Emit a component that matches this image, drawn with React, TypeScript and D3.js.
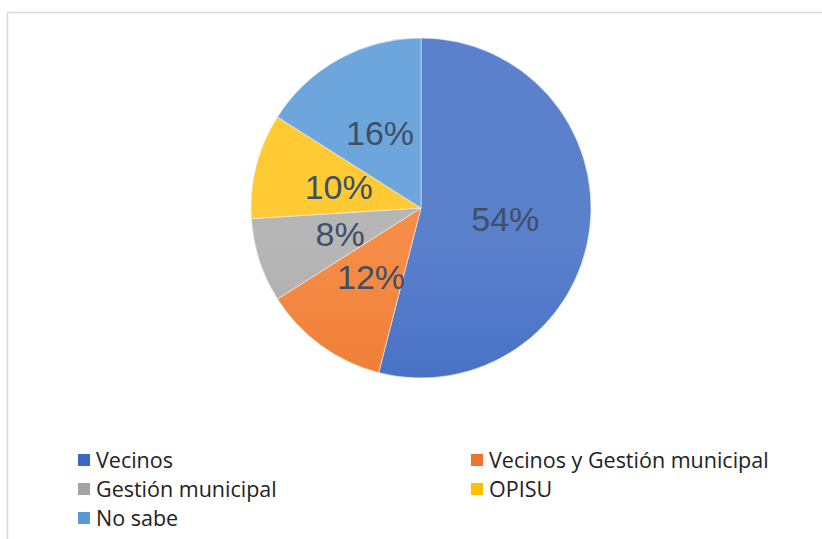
import React from 'react';
import * as d3 from 'd3';

const categories = ['Vecinos', 'Vecinos y Gestión municipal', 'Gestión municipal', 'OPISU', 'No sabe'];
const values = [54, 12, 8, 10, 16];
const labels = ['54%', '12%', '8%', '10%', '16%'];
const gradTop = ['#5b80cc', '#f58d48', '#b6b6b6', '#ffca33', '#6ca6dd'];
const gradBottom = ['#2c5cbd', '#e8691c', '#989898', '#f2b400', '#4a8dce'];
const swatch = ['#3a66c4', '#ee7332', '#a3a3a3', '#ffc000', '#5898d6'];

const W = 822;
const H = 539;
const cx = 421;
const cy = 208;
const R = 170;

export default function App() {
  const pie = d3.pie<number>().sort(null).value((d) => d);
  const arcs = pie(values);
  const arc = d3.arc<d3.PieArcDatum<number>>().innerRadius(0).outerRadius(R);

  // legend: two columns, three rows
  const legendX = d3.scalePoint<number>().domain([0, 1]).range([78, 471]);
  const legendY = d3.scalePoint<number>().domain([0, 1, 2]).range([460, 518]);

  return (
    <svg width={W} height={H} style={{ position: 'absolute', left: 0, top: 0, background: '#fff' }}>
      <defs>
        {values.map((_, i) => (
          <linearGradient key={i} id={`g${i}`} gradientUnits="userSpaceOnUse" x1={0} y1={cy - R} x2={0} y2={cy + R}>
            <stop offset="0" stopColor={gradTop[i]} />
            <stop offset="1" stopColor={gradBottom[i]} />
          </linearGradient>
        ))}
      </defs>
      <rect x={7.5} y={12.5} width={W + 10} height={H + 10} fill="#fff" stroke="#d9d9d9" strokeWidth={1.5} />
      <g transform={`translate(${cx},${cy})`}>
        {arcs.map((a, i) => (
          <path key={i} d={arc(a) || ''} fill={`url(#g${i})`} stroke="#f2f2f2" strokeWidth={0.6} />
        ))}
        {arcs.map((a, i) => {
          const [x, y] = arc.centroid(a);
          return (
            <text
              key={i}
              x={x}
              y={y}
              dy="0.35em"
              textAnchor="middle"
              fontFamily="'Liberation Sans', Arial, sans-serif"
              fontSize={34}
              fill="#404f66"
            >
              {labels[i]}
            </text>
          );
        })}
      </g>
      <g fontFamily="'Open Sans', sans-serif" fontSize={21.5} fill="#222">
        {categories.map((c, i) => {
          const x = legendX(i % 2) as number;
          const y = legendY(Math.floor(i / 2)) as number;
          return (
            <g key={c}>
              <rect x={x} y={y - 6} width={12} height={12} fill={swatch[i]} />
              <text x={x + 18} y={y} dy="0.36em">
                {c}
              </text>
            </g>
          );
        })}
      </g>
    </svg>
  );
}
